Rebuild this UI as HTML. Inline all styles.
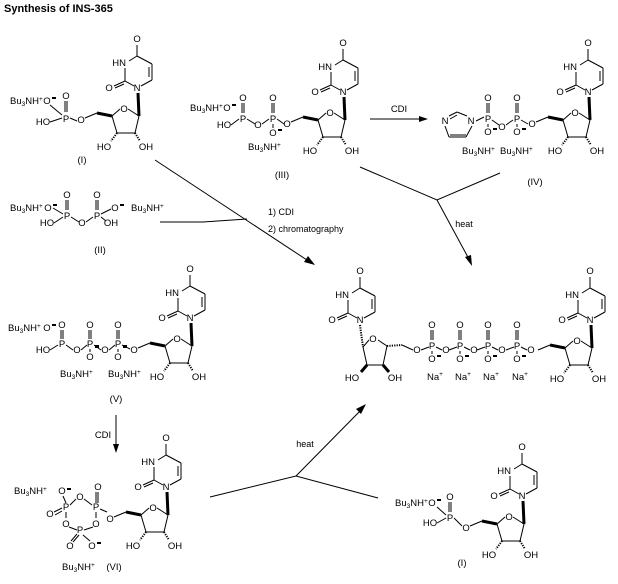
<!DOCTYPE html>
<html><head><meta charset="utf-8"><style>
html,body{margin:0;padding:0;background:#fff;}
svg{display:block;font-family:"Liberation Sans",Arial,sans-serif;font-size:9.5px;}
text{text-anchor:middle;fill:#000;}
.s{font-size:6.5px;}
line,polyline{stroke:#000;stroke-width:1;fill:none;}
.w{stroke-width:3;}
.h{stroke-dasharray:1.2 1.2;stroke-width:2;}
.l{text-anchor:start;}
</style></head><body>
<svg width="618" height="584" viewBox="0 0 618 584">
<defs>
<g id="ura">
<line x1="-3" y1="-2" x2="-12" y2="-7"/><line x1="-12" y1="-7" x2="-12" y2="-20"/>
<line x1="-8" y1="-27" x2="0" y2="-32"/><line x1="0" y1="-32" x2="0" y2="-43"/>
<line x1="0" y1="-32" x2="15" y2="-24"/><line x1="15" y1="-24" x2="15" y2="-8"/>
<line x1="12" y1="-21" x2="12" y2="-11"/><line x1="15" y1="-8" x2="4" y2="-2"/>
<line x1="-12" y1="-7" x2="-23" y2="-2"/><line x1="-13" y1="-4" x2="-22" y2="0"/>
</g>
<g id="sug">
<line class="w" x1="1" y1="5" x2="2" y2="28"/>
<line x1="2" y1="28" x2="-9" y2="21"/><line x1="-17" y1="21" x2="-25" y2="28"/>
<line x1="-25" y1="28" x2="-20" y2="45"/><line x1="-20" y1="45" x2="-2" y2="45"/>
<line x1="-2" y1="45" x2="2" y2="28"/>
<line class="h" x1="-20" y1="45" x2="-26" y2="53"/><line class="h" x1="-2" y1="45" x2="3" y2="53"/>
<line class="w" x1="-25" y1="28" x2="-40" y2="25"/><line x1="-40" y1="25" x2="-52" y2="30"/>
</g>
</defs>

<text x="4" y="12" class="l" style="font-weight:bold;font-size:11px">Synthesis of INS-365</text>

<!-- I -->
<g transform="translate(137,88)"><use href="#ura"/><use href="#sug"/>
<text x="0" y="-46">O</text><text x="-11" y="-22" style="text-anchor:end">HN</text><text x="0" y="3">N</text><text x="-28" y="3">O</text><text x="-13" y="24">O</text><text x="-33" y="62">HO</text><text x="9" y="62">OH</text><text x="-56" y="35">O</text></g>
<text x="10" y="104" class="l">Bu<tspan class="s" dy="2">3</tspan><tspan dy="-2">NH</tspan><tspan class="s" dy="-3">+</tspan></text>
<text x="47" y="104">O</text><rect x="52" y="97" width="4" height="2"/>
<text x="66" y="99">O</text><line x1="65" y1="101" x2="65" y2="112"/><line x1="67" y1="101" x2="67" y2="112"/>
<text x="66" y="122">P</text><text x="43" y="125">HO</text><line x1="50" y1="122" x2="62" y2="118"/><line x1="50" y1="105" x2="62" y2="115"/>
<line x1="70" y1="118" x2="77" y2="121"/>
<text x="82" y="163">(I)</text>

<!-- II -->
<text x="10" y="211" class="l">Bu<tspan class="s" dy="2">3</tspan><tspan dy="-2">NH</tspan><tspan class="s" dy="-3">+</tspan></text>
<text x="48" y="211">O</text><rect x="53" y="204" width="4" height="2"/>
<text x="67" y="198">O</text><line x1="66" y1="200" x2="66" y2="210"/><line x1="68" y1="200" x2="68" y2="210"/>
<text x="67" y="219">P</text><text x="47" y="226">HO</text><line x1="54" y1="223" x2="63" y2="217"/><line x1="53" y1="208" x2="63" y2="214"/>
<text x="82" y="226">O</text><line x1="71" y1="217" x2="79" y2="222"/><line x1="86" y1="222" x2="93" y2="217"/>
<text x="97" y="198">O</text><line x1="96" y1="200" x2="96" y2="210"/><line x1="98" y1="200" x2="98" y2="210"/>
<text x="97" y="219">P</text><text x="111" y="226">OH</text><line x1="101" y1="217" x2="106" y2="221"/>
<text x="115" y="211">O</text><rect x="120" y="204" width="4" height="2"/><line x1="101" y1="214" x2="111" y2="209"/>
<text x="131" y="211" class="l">Bu<tspan class="s" dy="2">3</tspan><tspan dy="-2">NH</tspan><tspan class="s" dy="-3">+</tspan></text>
<text x="100" y="253">(II)</text>

<!-- III -->
<g transform="translate(343,92)"><use href="#ura"/><use href="#sug"/>
<text x="0" y="-46">O</text><text x="-11" y="-22" style="text-anchor:end">HN</text><text x="0" y="3">N</text><text x="-28" y="3">O</text><text x="-13" y="24">O</text><text x="-33" y="62">HO</text><text x="9" y="62">OH</text><text x="-56" y="35">O</text></g>
<text x="190" y="111" class="l">Bu<tspan class="s" dy="2">3</tspan><tspan dy="-2">NH</tspan><tspan class="s" dy="-3">+</tspan></text>
<text x="227" y="111">O</text><rect x="232" y="104" width="4" height="2"/>
<text x="243" y="101">O</text><line x1="242" y1="103" x2="242" y2="113"/><line x1="244" y1="103" x2="244" y2="113"/>
<text x="243" y="122">P</text><text x="224" y="128">HO</text><line x1="231" y1="125" x2="239" y2="119"/>
<text x="258" y="128">O</text><line x1="247" y1="119" x2="255" y2="124"/><line x1="262" y1="124" x2="269" y2="119"/>
<text x="273" y="101">O</text><line x1="272" y1="103" x2="272" y2="113"/><line x1="274" y1="103" x2="274" y2="113"/>
<text x="273" y="122">P</text><line x1="273" y1="124" x2="273" y2="128"/><text x="273" y="136">O</text><rect x="278" y="129" width="4" height="2"/>
<line x1="277" y1="119" x2="284" y2="124"/>
<text x="248" y="150" class="l">Bu<tspan class="s" dy="2">3</tspan><tspan dy="-2">NH</tspan><tspan class="s" dy="-3">+</tspan></text>
<text x="282" y="178">(III)</text>

<!-- CDI arrow -->
<line x1="370" y1="119" x2="424" y2="119"/><polygon points="428,119 419,116 419,122"/>
<text x="399" y="112">CDI</text>

<!-- IV -->
<g transform="translate(588,92)"><use href="#ura"/><use href="#sug"/>
<text x="0" y="-46">O</text><text x="-11" y="-22" style="text-anchor:end">HN</text><text x="0" y="3">N</text><text x="-28" y="3">O</text><text x="-13" y="24">O</text><text x="-33" y="62">HO</text><text x="9" y="62">OH</text><text x="-56" y="35">O</text></g>
<text x="445" y="124">N</text><text x="471" y="124">N</text>
<line x1="449" y1="116" x2="457" y2="112"/><line x1="450" y1="119" x2="457" y2="115"/><line x1="457" y1="112" x2="467" y2="116"/>
<line x1="472" y1="126" x2="466" y2="137"/><line x1="466" y1="137" x2="449" y2="137"/><line x1="466" y1="135" x2="450" y2="135"/><line x1="449" y1="137" x2="445" y2="126"/>
<line x1="476" y1="121" x2="484" y2="117"/>
<text x="488" y="101">O</text><line x1="487" y1="103" x2="487" y2="113"/><line x1="489" y1="103" x2="489" y2="113"/>
<text x="488" y="122">P</text><line x1="488" y1="124" x2="488" y2="127"/><text x="488" y="135">O</text><rect x="493" y="128" width="4" height="2"/>
<text x="502" y="130">O</text><line x1="492" y1="120" x2="499" y2="125"/><line x1="506" y1="125" x2="513" y2="120"/>
<text x="517" y="101">O</text><line x1="516" y1="103" x2="516" y2="113"/><line x1="518" y1="103" x2="518" y2="113"/>
<text x="517" y="122">P</text><line x1="517" y1="124" x2="517" y2="127"/><text x="517" y="135">O</text><rect x="522" y="128" width="4" height="2"/>
<line x1="521" y1="120" x2="528" y2="124"/>
<text x="462" y="154" class="l">Bu<tspan class="s" dy="2">3</tspan><tspan dy="-2">NH</tspan><tspan class="s" dy="-3">+</tspan></text>
<text x="500" y="154" class="l">Bu<tspan class="s" dy="2">3</tspan><tspan dy="-2">NH</tspan><tspan class="s" dy="-3">+</tspan></text>
<text x="535" y="185">(IV)</text>

<!-- arrows top -->
<line x1="155" y1="160" x2="310" y2="262"/><polygon points="315,265 304,262 308,256"/>
<polyline points="160,222 203,222 247,219"/>
<text x="268" y="215" class="l" style="font-size:9px">1) CDI</text>
<text x="268" y="232" class="l" style="font-size:9px">2) chromatography</text>
<polyline points="360,167 437,200 500,173"/>
<line x1="437" y1="200" x2="470" y2="261"/><polygon points="472,266 465,257 471,255"/>
<text x="464" y="227" style="font-size:9px">heat</text>

<!-- product -->
<g transform="translate(360,320)"><use href="#ura"/>
<text x="0" y="-46">O</text><text x="-11" y="-22" style="text-anchor:end">HN</text><text x="0" y="3">N</text><text x="-28" y="3">O</text></g>
<line class="h" x1="360" y1="325" x2="363" y2="347"/>
<line x1="363" y1="347" x2="369" y2="340"/><text x="373" y="342">O</text><line x1="378" y1="340" x2="387" y2="346"/>
<line x1="387" y1="346" x2="383" y2="365"/><line x1="383" y1="365" x2="367" y2="365"/><line x1="367" y1="365" x2="363" y2="347"/>
<line class="w" x1="367" y1="365" x2="361" y2="372"/><line class="w" x1="383" y1="365" x2="389" y2="372"/>
<text x="352" y="381">HO</text><text x="395" y="381">OH</text>
<line class="h" x1="387" y1="346" x2="402" y2="345"/><line x1="402" y1="345" x2="413" y2="350"/>
<text x="417" y="353">O</text>
<g>
<line x1="421" y1="350" x2="429" y2="347"/>
<text x="432" y="328">O</text><line x1="431" y1="330" x2="431" y2="340"/><line x1="433" y1="330" x2="433" y2="340"/>
<text x="432" y="349">P</text><line x1="432" y1="351" x2="432" y2="354"/><text x="432" y="362">O</text><rect x="437" y="355" width="4" height="2"/>
<line x1="436" y1="347" x2="442" y2="350"/><text x="446" y="353">O</text>
<text x="435" y="380">Na<tspan class="s" dy="-4">+</tspan></text>
</g>
<g transform="translate(28,0)"><line x1="421" y1="350" x2="429" y2="347"/>
<text x="432" y="328">O</text><line x1="431" y1="330" x2="431" y2="340"/><line x1="433" y1="330" x2="433" y2="340"/>
<text x="432" y="349">P</text><line x1="432" y1="351" x2="432" y2="354"/><text x="432" y="362">O</text><rect x="437" y="355" width="4" height="2"/>
<line x1="436" y1="347" x2="442" y2="350"/><text x="446" y="353">O</text><text x="435" y="380">Na<tspan class="s" dy="-4">+</tspan></text></g>
<g transform="translate(56,0)"><line x1="421" y1="350" x2="429" y2="347"/>
<text x="432" y="328">O</text><line x1="431" y1="330" x2="431" y2="340"/><line x1="433" y1="330" x2="433" y2="340"/>
<text x="432" y="349">P</text><line x1="432" y1="351" x2="432" y2="354"/><text x="432" y="362">O</text><rect x="437" y="355" width="4" height="2"/>
<line x1="436" y1="347" x2="442" y2="350"/><text x="446" y="353">O</text><text x="435" y="380">Na<tspan class="s" dy="-4">+</tspan></text></g>
<g transform="translate(85,0)"><line x1="421" y1="350" x2="429" y2="347"/>
<text x="432" y="328">O</text><line x1="431" y1="330" x2="431" y2="340"/><line x1="433" y1="330" x2="433" y2="340"/>
<text x="432" y="349">P</text><line x1="432" y1="351" x2="432" y2="354"/><text x="432" y="362">O</text><rect x="437" y="355" width="4" height="2"/>
<line x1="436" y1="347" x2="442" y2="350"/><text x="446" y="353">O</text><text x="435" y="380">Na<tspan class="s" dy="-4">+</tspan></text></g>
<g transform="translate(590,320)"><use href="#ura"/><use href="#sug"/>
<text x="0" y="-46">O</text><text x="-11" y="-22" style="text-anchor:end">HN</text><text x="0" y="3">N</text><text x="-28" y="3">O</text><text x="-13" y="24">O</text><text x="-33" y="62">HO</text><text x="9" y="62">OH</text></g>

<!-- V -->
<g transform="translate(190,318)"><use href="#ura"/><use href="#sug"/>
<text x="0" y="-46">O</text><text x="-11" y="-22" style="text-anchor:end">HN</text><text x="0" y="3">N</text><text x="-28" y="3">O</text><text x="-13" y="24">O</text><text x="-33" y="62">HO</text><text x="9" y="62">OH</text><text x="-56" y="35">O</text></g>
<text x="8" y="331" class="l">Bu<tspan class="s" dy="2">3</tspan><tspan dy="-2">NH</tspan><tspan class="s" dy="-3">+</tspan></text>
<text x="47" y="331">O</text><rect x="52" y="324" width="4" height="2"/>
<text x="62" y="328">O</text><line x1="61" y1="330" x2="61" y2="339"/><line x1="63" y1="330" x2="63" y2="339"/>
<text x="62" y="347">P</text><text x="43" y="353">HO</text><line x1="50" y1="350" x2="58" y2="345"/>
<text x="77" y="353">O</text><line x1="66" y1="345" x2="73" y2="350"/><line x1="81" y1="350" x2="87" y2="345"/>
<text x="90" y="328">O</text><line x1="89" y1="330" x2="89" y2="339"/><line x1="91" y1="330" x2="91" y2="339"/>
<text x="90" y="347">P</text><line x1="90" y1="349" x2="90" y2="352"/><text x="90" y="360">O</text><rect x="95" y="345" width="4" height="3"/>
<text x="105" y="353">O</text><line x1="94" y1="345" x2="101" y2="350"/><line x1="109" y1="350" x2="115" y2="345"/>
<text x="118" y="328">O</text><line x1="117" y1="330" x2="117" y2="339"/><line x1="119" y1="330" x2="119" y2="339"/>
<text x="118" y="347">P</text><line x1="118" y1="349" x2="118" y2="352"/><text x="118" y="360">O</text><rect x="123" y="345" width="4" height="3"/>
<line x1="122" y1="345" x2="130" y2="349"/>
<text x="60" y="377" class="l">Bu<tspan class="s" dy="2">3</tspan><tspan dy="-2">NH</tspan><tspan class="s" dy="-3">+</tspan></text>
<text x="108" y="377" class="l">Bu<tspan class="s" dy="2">3</tspan><tspan dy="-2">NH</tspan><tspan class="s" dy="-3">+</tspan></text>
<text x="116" y="402">(V)</text>

<line x1="116" y1="415" x2="116" y2="448"/><polygon points="116,453 113,444 119,444"/>
<text x="103" y="438">CDI</text>

<!-- VI -->
<g transform="translate(166,487)"><use href="#ura"/><use href="#sug"/>
<text x="0" y="-46">O</text><text x="-11" y="-22" style="text-anchor:end">HN</text><text x="0" y="3">N</text><text x="-28" y="3">O</text><text x="-13" y="24">O</text><text x="-33" y="62">HO</text><text x="9" y="62">OH</text><text x="-56" y="35">O</text></g>
<text x="14" y="494" class="l">Bu<tspan class="s" dy="2">3</tspan><tspan dy="-2">NH</tspan><tspan class="s" dy="-3">+</tspan></text>
<text x="62" y="494">O</text><rect x="67" y="488" width="4" height="2"/><line x1="63" y1="496" x2="66" y2="503"/>
<text x="66" y="510">P</text><text x="80" y="500">O</text><line x1="70" y1="505" x2="76" y2="499"/><line x1="84" y1="499" x2="92" y2="505"/>
<text x="98" y="490">O</text><line x1="96" y1="492" x2="96" y2="503"/><line x1="98" y1="492" x2="98" y2="503"/>
<text x="96" y="510">P</text><line x1="100" y1="509" x2="107" y2="512"/>
<text x="50" y="517">O</text><line x1="54" y1="512" x2="62" y2="508"/><line x1="55" y1="515" x2="62" y2="511"/>
<text x="66" y="527">O</text><line x1="66" y1="512" x2="66" y2="518"/>
<text x="96" y="527">O</text><line x1="96" y1="512" x2="96" y2="518"/>
<text x="80" y="533">P</text><line x1="69" y1="527" x2="77" y2="530"/><line x1="93" y1="527" x2="84" y2="530"/>
<text x="70" y="549">O</text><line x1="71" y1="541" x2="77" y2="534"/><line x1="73" y1="542" x2="79" y2="535"/>
<text x="92" y="549">O</text><rect x="97" y="542" width="4" height="2"/><line x1="90" y1="541" x2="83" y2="535"/>
<text x="62" y="570" class="l">Bu<tspan class="s" dy="2">3</tspan><tspan dy="-2">NH</tspan><tspan class="s" dy="-3">+</tspan></text>
<text x="114" y="570">(VI)</text>

<!-- bottom arrows -->
<polyline points="210,497 296,476 378,498"/>
<line x1="296" y1="476" x2="363" y2="408"/><polygon points="366,404 356,409 361,414"/>
<text x="305" y="447" style="font-size:9px">heat</text>

<!-- last I -->
<g transform="translate(522,496)"><use href="#ura"/><use href="#sug"/>
<text x="0" y="-46">O</text><text x="-11" y="-22" style="text-anchor:end">HN</text><text x="0" y="3">N</text><text x="-28" y="3">O</text><text x="-13" y="24">O</text><text x="-33" y="62">HO</text><text x="9" y="62">OH</text><text x="-56" y="35">O</text></g>
<text x="395" y="506" class="l">Bu<tspan class="s" dy="2">3</tspan><tspan dy="-2">NH</tspan><tspan class="s" dy="-3">+</tspan></text>
<text x="432" y="506">O</text><rect x="437" y="499" width="4" height="2"/>
<text x="450" y="500">O</text><line x1="449" y1="502" x2="449" y2="512"/><line x1="451" y1="502" x2="451" y2="512"/>
<text x="450" y="521">P</text><text x="430" y="526">HO</text><line x1="437" y1="523" x2="446" y2="518"/><line x1="437" y1="507" x2="446" y2="515"/>
<line x1="454" y1="518" x2="462" y2="526"/>
<text x="462" y="566">(I)</text>
</svg>
</body></html>
